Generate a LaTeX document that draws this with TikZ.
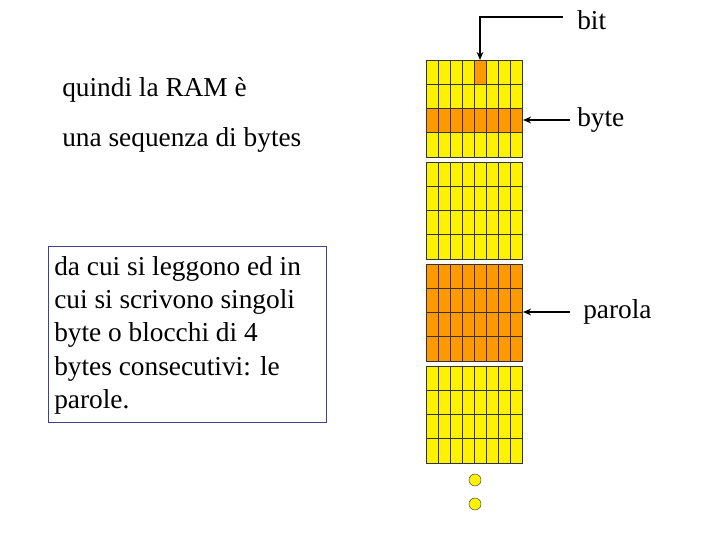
\documentclass[tikz,border=0pt]{standalone}
\usepackage{fontspec}
\usetikzlibrary{arrows.meta}
\setmainfont{Liberation Serif}
\begin{document}
\begin{tikzpicture}[x=0.75pt,y=-0.75pt,
  lbl/.style={anchor=west,inner sep=0pt,font=\fontsize{20.5}{24}\selectfont},
  arr/.style={-{Stealth[length=6pt,width=5pt]},line width=1.1pt},
  dot/.style={circle,draw=black!70,fill=yellow,minimum size=9pt,inner sep=0pt}]
\useasboundingbox (0,0) rectangle (720,540);
\definecolor{org}{RGB}{255,153,0}
\foreach \g/\y in {0/60,1/162,2/264,3/366}{
  \foreach \r in {0,...,3}{
    \foreach \c in {0,...,7}{
      \pgfmathsetmacro{\yy}{\y+\r*24.25}
      \def\col{yellow}
      \ifnum\g=2 \def\col{org}\fi
      \ifnum\g=0 \ifnum\r=2 \def\col{org}\fi\fi
      \ifnum\g=0 \ifnum\r=0 \ifnum\c=4 \def\col{org}\fi\fi\fi
      \filldraw[fill=\col,draw=black!80,line width=0.6pt] (426+\c*12,\yy) rectangle ++(12,24.25);
    }}}
\coordinate (bitcell) at (480,60);
\coordinate (byterow) at (523,120);
\coordinate (parrow) at (523,312);
\node[lbl] (bit) at (577,20) {bit};
\node[lbl] (byte) at (577,120) {byte};
\node[lbl] (parola) at (583,312) {parola};
\coordinate (b0) at (563,17);
\draw[arr] (b0) -- (480,17) -- (bitcell);
\draw[arr] (570,120) -- (byterow);
\draw[arr] (570,312) -- (parrow);
\node[lbl] (q1) at (62,90) {quindi la RAM è};
\node[lbl] (q2) at (62,140) {una sequenza di bytes};
\node[draw=black!40!blue!50!gray,line width=0.8pt,anchor=north west,minimum width=208.5pt,minimum height=132pt,inner sep=0pt] (box) at (48,246) {};
\node[anchor=north west,align=left,inner sep=0pt,font=\fontsize{20.5}{25}\selectfont] (bt) at (54,256) {da cui si leggono ed in\\cui si scrivono singoli\\byte o blocchi di 4\\bytes consecutivi: le\\parole.};
\node[dot] (d1) at (475,480) {};
\node[dot] (d2) at (475,504) {};
\end{tikzpicture}
\end{document}
